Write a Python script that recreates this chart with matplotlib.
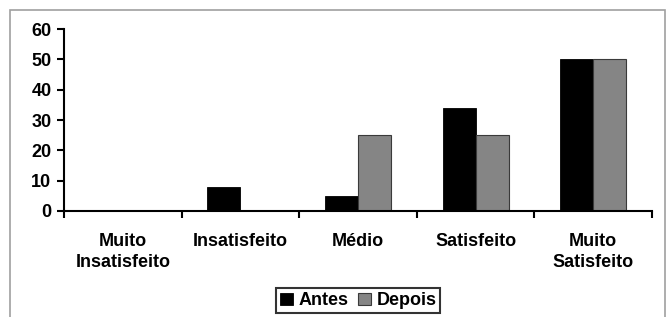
import numpy as np
import matplotlib
matplotlib.use("Agg")
import matplotlib.pyplot as plt
from matplotlib.patches import Rectangle

# dados
categorias = ["Muito\nInsatisfeito", "Insatisfeito", "Médio", "Satisfeito", "Muito\nSatisfeito"]
antes = [0, 8, 5, 34, 50]
depois = [0, 0, 25, 25, 50]
y_ticks = [0, 10, 20, 30, 40, 50, 60]

plt.rcParams['font.family'] = ['Liberation Sans', 'DejaVu Sans']
plt.rcParams['font.weight'] = 'bold'

fig = plt.figure(figsize=(6.68, 3.17), dpi=100)
ax = fig.add_axes([0.0958, 0.3344, 0.8802, 0.5741])

x = np.arange(len(categorias))
larg = 0.28
ax.bar(x - larg / 2, antes, larg, color="black", edgecolor="black", linewidth=0.6, label="Antes")
ax.bar(x + larg / 2, depois, larg, color="#858585", edgecolor="#3a3a3a", linewidth=0.8, label="Depois")

ax.set_xlim(-0.5, len(categorias) - 0.5)
ax.set_ylim(0, 60)
ax.set_yticks(y_ticks)
ax.set_xticks(x)
ax.set_xticklabels(categorias, fontsize=13, fontweight="bold", linespacing=1.3)
ax.set_xticks(np.arange(len(categorias) + 1) - 0.5, minor=True)
ax.tick_params(axis="x", which="major", length=0, pad=16)
ax.tick_params(axis="x", which="minor", length=5, width=1.5, direction="out")
ax.tick_params(axis="y", length=5, width=1.5, labelsize=13, pad=4)
for lbl in ax.get_yticklabels():
    lbl.set_fontweight("bold")

for s in ["top", "right"]:
    ax.spines[s].set_visible(False)
ax.spines["left"].set_linewidth(1.5)
ax.spines["bottom"].set_linewidth(1.5)

leg = ax.legend(loc="center", ncol=2, frameon=True, fancybox=False, fontsize=13,
                handlelength=0.75, handleheight=0.65, handletextpad=0.3,
                columnspacing=0.5, borderpad=0.2, borderaxespad=0)
leg.get_frame().set_edgecolor("black")
leg.get_frame().set_linewidth(1.5)
leg.set_bbox_to_anchor((0.536, 0.052), transform=fig.transFigure)

# moldura cinza externa
fig.patches.append(Rectangle((10 / 668, -0.1), 655 / 668, 1 - 10 / 317 + 0.1,
                             transform=fig.transFigure, fill=False,
                             edgecolor="#a0a0a0", linewidth=1.2, clip_on=False))

fig.savefig("out.png", dpi=100)
